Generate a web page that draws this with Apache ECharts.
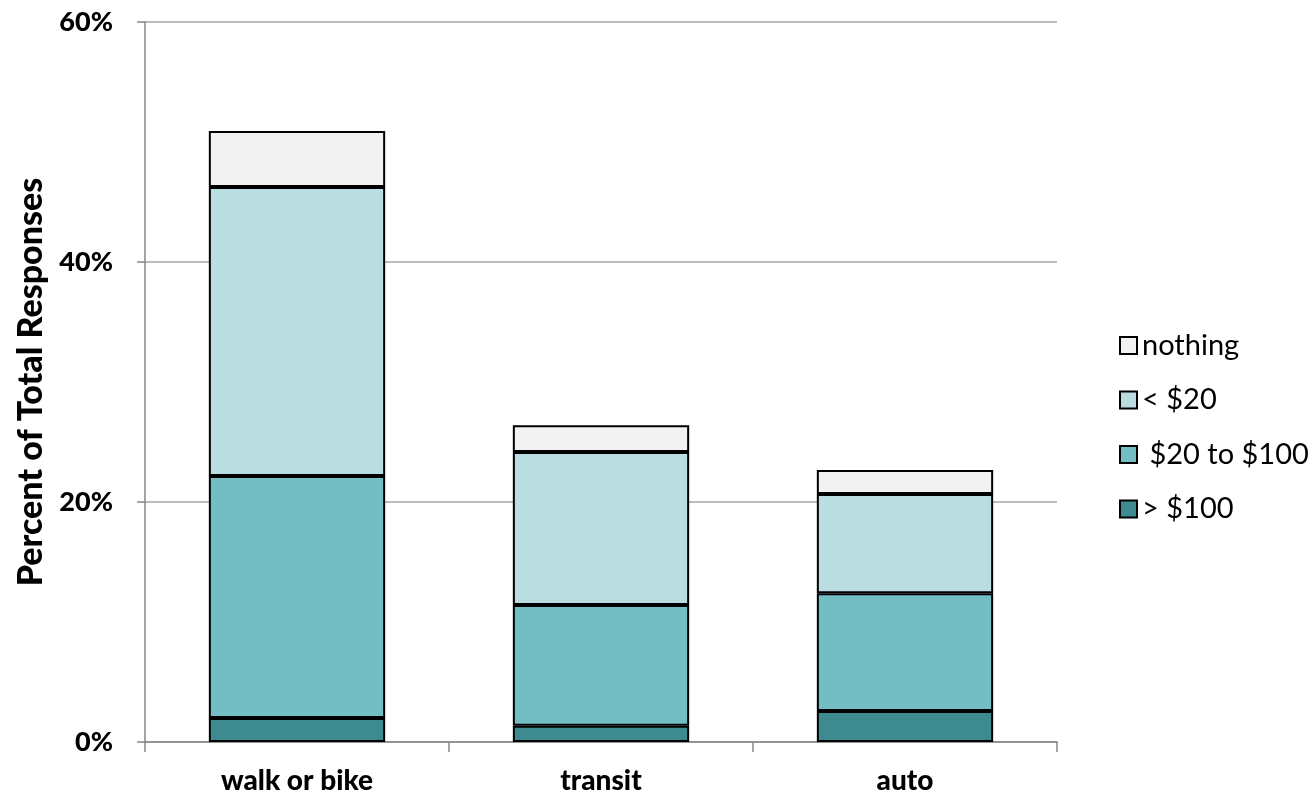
<!DOCTYPE html>
<html>
<head>
<meta charset="utf-8">
<script src="https://cdn.jsdelivr.net/npm/echarts@6/dist/echarts.min.js"></script>
<style>
html,body{margin:0;padding:0;background:#fff;}
#c{width:1309px;height:795px;}
</style>
</head>
<body>
<div id="c"></div>
<script>
const categories = ['walk or bike', 'transit', 'auto'];
const seriesNames = ['> $100', ' $20 to $100', '< $20', 'nothing'];
const over100 = [2.0, 1.36, 2.58];
const from20to100 = [20.17, 10.06, 9.81];
const under20 = [24.08, 12.75, 8.28];
const nothing = [4.67, 2.23, 2.0];
const yTicks = [0, 20, 40, 60];

const colors = ['#3d8a90', '#73bec4', '#b9dde1', '#f2f2f2'];
const values = [over100, from20to100, under20, nothing];
const FONT = 'Lato';

const chart = echarts.init(document.getElementById('c'), null, {renderer: 'canvas'});
chart.setOption({
  animation: false,
  backgroundColor: '#ffffff',
  grid: {left: 145, right: 252, top: 22, bottom: 53, containLabel: false},
  legend: {
    orient: 'vertical',
    left: 1114,
    top: 326,
    itemWidth: 17,
    itemHeight: 17,
    itemGap: 25.5,
    icon: 'rect',
    data: ['nothing', '< $20', ' $20 to $100', '> $100'],
    textStyle: {fontFamily: FONT, fontSize: 29, color: '#000'},
    itemStyle: {borderColor: '#000', borderWidth: 2}
  },
  xAxis: {
    type: 'category',
    data: categories,
    axisLine: {show: true, lineStyle: {color: '#868686', width: 1.5}},
    axisTick: {show: true, length: 10, lineStyle: {color: '#868686', width: 1.5}},
    axisLabel: {fontFamily: FONT, fontWeight: 900, fontSize: 28, color: '#000', margin: 25},
    splitLine: {show: false}
  },
  yAxis: {
    type: 'value',
    min: yTicks[0],
    max: yTicks[yTicks.length - 1],
    interval: 20,
    name: 'Percent of Total Responses',
    nameLocation: 'middle',
    nameGap: 90,
    nameTextStyle: {fontFamily: FONT, fontWeight: 900, fontSize: 34, color: '#000'},
    axisLine: {show: true, lineStyle: {color: '#868686', width: 1.5}},
    axisTick: {show: true, length: 8, lineStyle: {color: '#868686', width: 1.5}},
    axisLabel: {fontFamily: FONT, fontWeight: 900, fontSize: 27, color: '#000', margin: 32, formatter: '{value}%'},
    splitLine: {show: true, lineStyle: {color: '#a6a6a6', width: 1.5}}
  },
  series: seriesNames.map((name, i) => ({
    name: name,
    type: 'bar',
    stack: 'total',
    barWidth: '58%',
    data: values[i],
    itemStyle: {color: colors[i], borderColor: '#000', borderWidth: 2}
  }))
});
</script>
</body>
</html>
